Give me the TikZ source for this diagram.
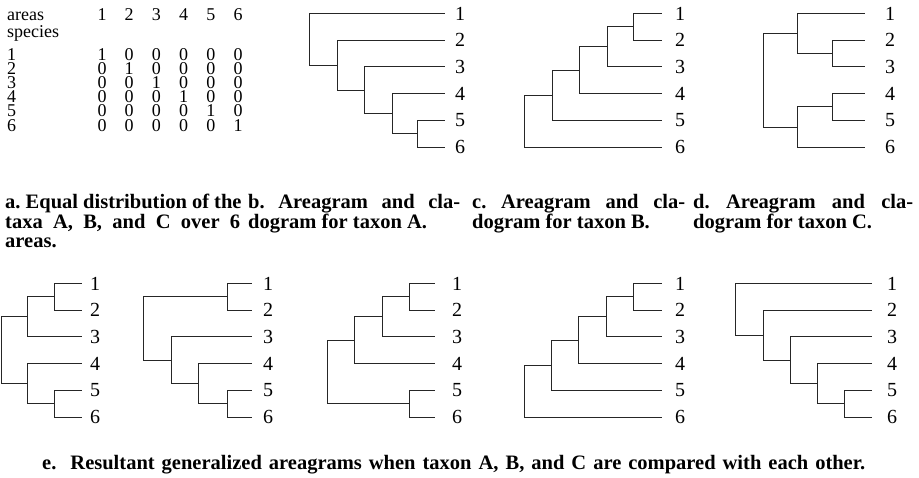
\documentclass[tikz,border=0pt]{standalone}
\usepackage{fontspec}
\setmainfont{Liberation Serif}
\frenchspacing

\begin{document}
\begin{tikzpicture}[
    x=1pt, y=-1pt,
    branch/.style={line width=1pt, black!85},
    num/.style={font=\fontsize{20}{20}\selectfont, inner sep=0pt},
    cell/.style={font=\fontsize{18}{18}\selectfont, inner sep=0pt},
    leaf/.style={num, anchor=center},
    capt/.style={font=\fontsize{20.5}{22}\selectfont\bfseries, inner sep=0pt, anchor=base west}
]
\useasboundingbox (0,0) rectangle (919,477);

% --- (a) Distribution matrix ---
\node[cell, anchor=base west] (hdareas) at (7,20) {areas};
\node[cell, anchor=base west] (hdspecies) at (7,37.5) {species};
\foreach \c/\x in {1/102,2/129.2,3/156.4,4/183.6,5/210.8,6/238} {
  \node[cell, anchor=base] (col\c) at (\x,20) {\c};
}
\foreach \r in {1,...,6} {
  \node[cell, anchor=base west] (row\r) at (7,{60+14.2*(\r-1)}) {\r};
  \foreach \c/\x in {1/102,2/129.2,3/156.4,4/183.6,5/210.8,6/238} {
    \node[cell, anchor=base] (m\r\c) at (\x,{60+14.2*(\r-1)}) {\ifnum\r=\c\relax 1\else 0\fi};
  }
}

% --- (b) Taxon A ---
\foreach \i/\y in {1/13.5,2/40.2,3/66.9,4/93.6,5/120.3,6/147} {
  \coordinate (b\i) at (445,\y);
  \node[leaf] (bl\i) at (460,\y) {\i};
}
\coordinate (bn56) at (417,133.65);
\coordinate (bn456) at (392,113.6);
\coordinate (bn3456) at (364,90.25);
\coordinate (bn23456) at (337,65.2);
\coordinate (broot) at (309,39.35);
\draw[branch] (bn56) |- (b5) (bn56) |- (b6);
\draw[branch] (bn456) |- (b4) (bn456) |- (bn56);
\draw[branch] (bn3456) |- (b3) (bn3456) |- (bn456);
\draw[branch] (bn23456) |- (b2) (bn23456) |- (bn3456);
\draw[branch] (broot) |- (b1) (broot) |- (bn23456);

% --- (c) Taxon B ---
\foreach \i/\y in {1/13.5,2/40.2,3/66.9,4/93.6,5/120.3,6/147} {
  \coordinate (c\i) at (662,\y);
  \node[leaf] (cl\i) at (680,\y) {\i};
}
\coordinate (cn12) at (633,26.85);
\coordinate (cn123) at (607,46.9);
\coordinate (cn1234) at (579,70.25);
\coordinate (cn12345) at (552,95.3);
\coordinate (croot) at (524,121.15);
\draw[branch] (cn12) |- (c1) (cn12) |- (c2);
\draw[branch] (cn123) |- (cn12) (cn123) |- (c3);
\draw[branch] (cn1234) |- (cn123) (cn1234) |- (c4);
\draw[branch] (cn12345) |- (cn1234) (cn12345) |- (c5);
\draw[branch] (croot) |- (cn12345) (croot) |- (c6);

% --- (d) Taxon C ---
\foreach \i/\y in {1/13.5,2/40.2,3/66.9,4/93.6,5/120.3,6/147} {
  \coordinate (d\i) at (865,\y);
  \node[leaf] (dl\i) at (890,\y) {\i};
}
\coordinate (dn23) at (832,53.55);
\coordinate (dn123) at (797,33.5);
\coordinate (dn45) at (832,106.95);
\coordinate (dn456) at (797,127);
\coordinate (droot) at (763,80.25);
\draw[branch] (dn23) |- (d2) (dn23) |- (d3);
\draw[branch] (dn123) |- (d1) (dn123) |- (dn23);
\draw[branch] (dn45) |- (d4) (dn45) |- (d5);
\draw[branch] (dn456) |- (dn45) (dn456) |- (d6);
\draw[branch] (droot) |- (dn123) (droot) |- (dn456);

% Captions (a)-(d)
\node[capt] (capa1) at (5,208) {a. Equal distribution of the};
\node[capt] (capa2) at (5,228) {\makebox[235pt][s]{taxa A, B, and C over 6}};
\node[capt] (capa3) at (5,247) {areas.};
\node[capt] (capb1) at (248,208) {\makebox[212pt][s]{b. Areagram and cla-}};
\node[capt] (capb2) at (248,228) {dogram for taxon A.};
\node[capt] (capc1) at (472,208) {\makebox[213pt][s]{c. Areagram and cla-}};
\node[capt] (capc2) at (472,228) {dogram for taxon B.};
\node[capt] (capd1) at (693,208) {\makebox[220pt][s]{d. Areagram and cla-}};
\node[capt] (capd2) at (693,228) {dogram for taxon C.};

% --- (e) Generalized areagrams ---
% first
\foreach \i/\y in {1/283.5,2/310.2,3/336.9,4/363.6,5/390.3,6/417} {
  \coordinate (ea\i) at (82,\y);
  \node[leaf] (eal\i) at (95,\y) {\i};
}
\coordinate (ean12) at (54,296.85);
\coordinate (ean123) at (27,316.9);
\coordinate (ean56) at (54,403.65);
\coordinate (ean456) at (27,383.6);
\coordinate (earoot) at (1,350.25);
\draw[branch] (ean12) |- (ea1) (ean12) |- (ea2);
\draw[branch] (ean123) |- (ean12) (ean123) |- (ea3);
\draw[branch] (ean56) |- (ea5) (ean56) |- (ea6);
\draw[branch] (ean456) |- (ea4) (ean456) |- (ean56);
\draw[branch] (earoot) |- (ean123) (earoot) |- (ean456);

% second
\foreach \i/\y in {1/283.5,2/310.2,3/336.9,4/363.6,5/390.3,6/417} {
  \coordinate (eb\i) at (252,\y);
  \node[leaf] (ebl\i) at (268,\y) {\i};
}
\coordinate (ebn12) at (227,296.85);
\coordinate (ebn56) at (227,403.65);
\coordinate (ebn456) at (198,383.6);
\coordinate (ebn3456) at (171,360.25);
\coordinate (ebroot) at (143,328.55);
\draw[branch] (ebn12) |- (eb1) (ebn12) |- (eb2);
\draw[branch] (ebn56) |- (eb5) (ebn56) |- (eb6);
\draw[branch] (ebn456) |- (eb4) (ebn456) |- (ebn56);
\draw[branch] (ebn3456) |- (eb3) (ebn3456) |- (ebn456);
\draw[branch] (ebroot) |- (ebn12) (ebroot) |- (ebn3456);

% third
\foreach \i/\y in {1/283.5,2/310.2,3/336.9,4/363.6,5/390.3,6/417} {
  \coordinate (ec\i) at (435,\y);
  \node[leaf] (ecl\i) at (457,\y) {\i};
}
\coordinate (ecn12) at (409,296.85);
\coordinate (ecn123) at (382,316.9);
\coordinate (ecn1234) at (354,340.25);
\coordinate (ecn56) at (409,403.65);
\coordinate (ecroot) at (327,371.95);
\draw[branch] (ecn12) |- (ec1) (ecn12) |- (ec2);
\draw[branch] (ecn123) |- (ecn12) (ecn123) |- (ec3);
\draw[branch] (ecn1234) |- (ecn123) (ecn1234) |- (ec4);
\draw[branch] (ecn56) |- (ec5) (ecn56) |- (ec6);
\draw[branch] (ecroot) |- (ecn1234) (ecroot) |- (ecn56);

% fourth
\foreach \i/\y in {1/283.5,2/310.2,3/336.9,4/363.6,5/390.3,6/417} {
  \coordinate (ed\i) at (662,\y);
  \node[leaf] (edl\i) at (680,\y) {\i};
}
\coordinate (edn12) at (633,296.85);
\coordinate (edn123) at (606,316.9);
\coordinate (edn1234) at (578,340.25);
\coordinate (edn12345) at (551,365.3);
\coordinate (edroot) at (524,391.15);
\draw[branch] (edn12) |- (ed1) (edn12) |- (ed2);
\draw[branch] (edn123) |- (edn12) (edn123) |- (ed3);
\draw[branch] (edn1234) |- (edn123) (edn1234) |- (ed4);
\draw[branch] (edn12345) |- (edn1234) (edn12345) |- (ed5);
\draw[branch] (edroot) |- (edn12345) (edroot) |- (ed6);

% fifth
\foreach \i/\y in {1/283.5,2/310.2,3/336.9,4/363.6,5/390.3,6/417} {
  \coordinate (ee\i) at (872,\y);
  \node[leaf] (eel\i) at (892,\y) {\i};
}
\coordinate (een56) at (844,403.65);
\coordinate (een456) at (817,383.6);
\coordinate (een3456) at (790,360.25);
\coordinate (een23456) at (763,335.2);
\coordinate (eeroot) at (735,309.35);
\draw[branch] (een56) |- (ee5) (een56) |- (ee6);
\draw[branch] (een456) |- (ee4) (een456) |- (een56);
\draw[branch] (een3456) |- (ee3) (een3456) |- (een456);
\draw[branch] (een23456) |- (ee2) (een23456) |- (een3456);
\draw[branch] (eeroot) |- (ee1) (eeroot) |- (een23456);

\node[capt] (cape) at (42,469) {\makebox[823pt][s]{e.\ \ Resultant generalized areagrams when taxon A, B, and C are compared with each other.}};

\end{tikzpicture}
\end{document}
